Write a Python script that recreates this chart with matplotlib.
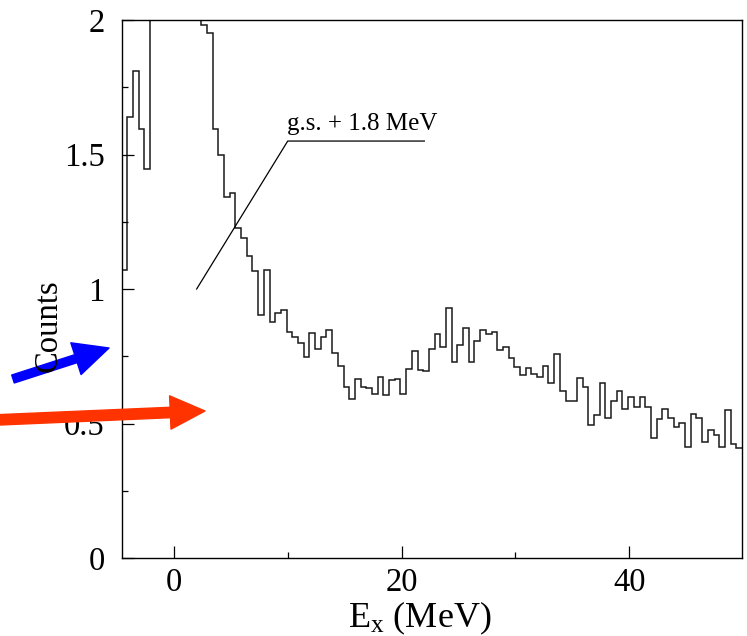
import numpy as np
import matplotlib
matplotlib.use("Agg")
import matplotlib.pyplot as plt
from matplotlib.ticker import FixedLocator

plt.rcParams['font.family'] = ['Liberation Serif', 'DejaVu Serif']
plt.rcParams['mathtext.fontset'] = 'custom'
plt.rcParams['mathtext.rm'] = 'Liberation Serif'
plt.rcParams['mathtext.it'] = 'Liberation Serif:italic'

# ---- data ----
bin_start = -4.6      # MeV, left edge of first bin
bin_width = 0.5       # MeV
counts = [
    1.07, 1.64, 1.81, 1.595, 1.446,
    2.6, 3.1, 3.3, 3.0, 2.8, 2.7, 2.5, 2.3, 2.2,   # off scale (above 2)
    1.98, 1.95, 1.595, 1.498, 1.342, 1.358,
    1.228, 1.188, 1.121, 1.068, 0.903, 1.071, 0.879, 0.912, 0.923, 0.840,
    0.823, 0.800, 0.748, 0.835, 0.777, 0.823, 0.848, 0.763, 0.714, 0.637,
    0.590, 0.664, 0.637, 0.633, 0.611, 0.672, 0.607, 0.661, 0.664, 0.611,
    0.701, 0.768, 0.699, 0.695, 0.777, 0.832, 0.783, 0.928, 0.727, 0.792,
    0.856, 0.727, 0.807, 0.846, 0.834, 0.841, 0.772, 0.786, 0.743, 0.711,
    0.679, 0.705, 0.685, 0.673, 0.714, 0.652, 0.757, 0.622, 0.584, 0.584,
    0.668, 0.635, 0.494, 0.533, 0.652, 0.520, 0.584, 0.622, 0.555, 0.600,
    0.563, 0.600, 0.563, 0.445, 0.516, 0.553, 0.522, 0.486, 0.501, 0.412,
    0.534, 0.522, 0.432, 0.476, 0.456, 0.412, 0.550, 0.424, 0.408,
]
x_major = [0, 20, 40]
x_minor = [10, 30]
y_major = [0, 0.5, 1, 1.5, 2]
y_labels = ["0", "0.5", "1", "1.5", "2"]
y_minor = [0.25, 0.75, 1.25, 1.75]
annot_x = [2.0, 10.0, 22.0]
annot_y = [1.0, 1.55, 1.55]
annot_text = "g.s. + 1.8 MeV"

edges = bin_start + bin_width * np.arange(len(counts) + 1)

bg = 'white'
fig = plt.figure(figsize=(7.47, 6.36), dpi=100, facecolor=bg)
ax = fig.add_axes([121.5/747, 78/636, (742-121.5)/747, (558-20)/636])
ax.set_facecolor(bg)

ax.stairs(counts, edges, baseline=None, color='#1a1a1a', linewidth=1.1)

ax.set_xlim(bin_start, edges[-1])
ax.set_ylim(0, 2)

ax.xaxis.set_major_locator(FixedLocator(x_major))
ax.xaxis.set_minor_locator(FixedLocator(x_minor))
ax.yaxis.set_major_locator(FixedLocator(y_major))
ax.yaxis.set_minor_locator(FixedLocator(y_minor))
ax.set_yticklabels(y_labels)
ax.tick_params(which='major', direction='in', length=8.6, width=0.9, labelsize=23.5)
ax.tick_params(which='minor', direction='in', length=4.3, width=0.9)
ax.tick_params(axis='x', which='major', pad=7)
ax.tick_params(axis='y', which='major', pad=12)
for s in ax.spines.values():
    s.set_linewidth(1.0)

fig.text(420/747, (636-627)/636, "E$_{\\rm x}$ (MeV)", fontsize=26,
         ha='center', va='baseline')
fig.text(48/747, (636-326)/636, "Counts", rotation=90, fontsize=23.5,
         ha='center', va='center')

# annotation line
ax.plot(annot_x, annot_y, color='black', linewidth=0.9)
ax.text(annot_x[1] - 0.1, 1.59, annot_text, fontsize=18, ha='left', va='baseline')

# arrows (figure pixels)
ax.annotate('', xy=(109, 288), xycoords='figure pixels',
            xytext=(13, 257), textcoords='figure pixels',
            arrowprops=dict(arrowstyle='simple,head_length=25,head_width=24,tail_width=6',
                            color='#0000ff', mutation_scale=1, shrinkA=0, shrinkB=0),
            annotation_clip=False, zorder=10)
ax.annotate('', xy=(205, 225), xycoords='figure pixels',
            xytext=(-5, 216), textcoords='figure pixels',
            arrowprops=dict(arrowstyle='simple,head_length=25,head_width=24,tail_width=7.5',
                            color='#ff3300', mutation_scale=1, shrinkA=0, shrinkB=0),
            annotation_clip=False, zorder=10)

fig.savefig('out.png', dpi=100, facecolor=bg)
